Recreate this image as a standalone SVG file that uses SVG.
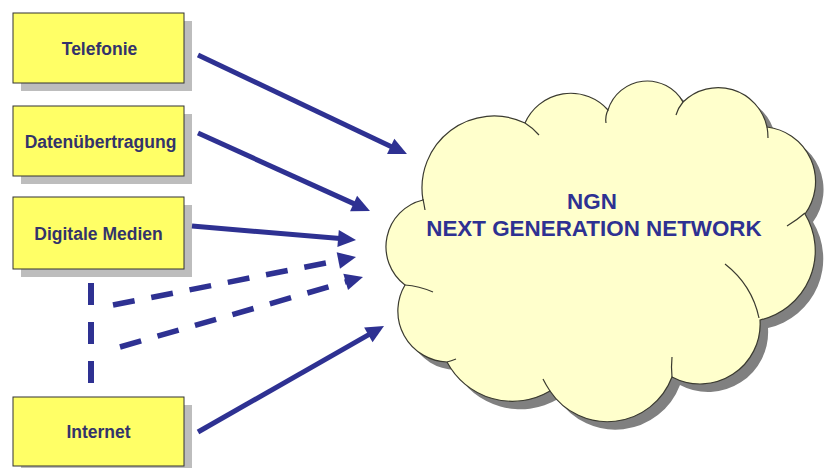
<svg xmlns="http://www.w3.org/2000/svg" width="824" height="468" viewBox="0 0 824 468">
<style>
.box{fill:#FFFF66;stroke:#333333;stroke-width:1}
.bshadow{fill:#BDBDBD}
.blabel{font-family:"Liberation Sans",Arial,sans-serif;font-weight:bold;font-size:17.5px;fill:#33336B;text-anchor:middle}
.clabel{font-family:"Liberation Sans",Arial,sans-serif;font-weight:bold;font-size:22.4px;fill:#2E3192;text-anchor:middle}
.cloud{fill:#FFFFCC;stroke:#3A3A30;stroke-width:1.2}
.cshadow{fill:#808080}
.crease{fill:none;stroke:#3A3A30;stroke-width:1.2}
.arrow{fill:none;stroke:#2E3192;stroke-width:5}
.dash{fill:none;stroke:#2E3192;stroke-width:5.5;stroke-dasharray:22 17}
</style>
<defs>
<marker id="ah" markerUnits="userSpaceOnUse" orient="auto" refX="2" refY="0" markerWidth="20" markerHeight="20" overflow="visible">
<polygon points="0,-8.5 18,0 0,8.5" fill="#2E3192"/>
</marker>
<path id="cloudShape" d="M423,200 A72,72 0 0 1 525,123 A50,50 0 0 1 608,110 A41,41 0 0 1 683,102 A50,50 0 0 1 767,127 A55,55 0 0 1 805,214 A71,71 0 0 1 760,320 A60,60 0 0 1 672,377 A69,69 0 0 1 550,391 A74,74 0 0 1 447,362 A51,51 0 0 1 405,285 A48,48 0 0 1 423,200 Z"/>
</defs>
<rect width="824" height="468" fill="#FFFFFF"/>

<g id="telefonie">
<rect class="bshadow" x="21" y="21" width="171" height="70"/>
<rect class="box" x="13" y="13" width="171" height="70"/>
<text class="blabel" x="99.5" y="54.5">Telefonie</text>
</g>
<g id="datenuebertragung">
<rect class="bshadow" x="21" y="114" width="171" height="70"/>
<rect class="box" x="13" y="106" width="171" height="70"/>
<text class="blabel" x="100.5" y="147.5">Datenübertragung</text>
</g>
<g id="digitale-medien">
<rect class="bshadow" x="21" y="205" width="171" height="72"/>
<rect class="box" x="13" y="197" width="171" height="72"/>
<text class="blabel" x="98.5" y="239.5">Digitale Medien</text>
</g>
<g id="internet">
<rect class="bshadow" x="21" y="405" width="171" height="69"/>
<rect class="box" x="13" y="397" width="171" height="69"/>
<text class="blabel" x="98.5" y="438">Internet</text>
</g>

<g id="ngn">
<use href="#cloudShape" class="cshadow" transform="translate(8,8)"/>
<use href="#cloudShape" class="cloud"/>
<path class="crease" d="M423,199 Q424,204 425,210"/>
<path class="crease" d="M525,123 Q533,128 539,135"/>
<path class="crease" d="M608,110 Q605,116 606,123"/>
<path class="crease" d="M683,102 Q678,108 676,115"/>
<path class="crease" d="M767,127 Q768,132 768,138"/>
<path class="crease" d="M805,213 Q797,220 787,226"/>
<path class="crease" d="M759,318 Q752,285 725,264"/>
<path class="crease" d="M672,377 Q671,367 672,357"/>
<path class="crease" d="M550,391 Q546,385 543,379"/>
<path class="crease" d="M447,362 Q451,361 456,359"/>
<path class="crease" d="M405,285 Q419,286 433,292"/>
<text class="clabel" x="592" y="209">NGN</text>
<text class="clabel" x="594" y="236">NEXT GENERATION NETWORK</text>
</g>

<g id="connectors">
<path class="arrow" d="M198,55 L392.5,147.2" marker-end="url(#ah)"/>
<path class="arrow" d="M198,133 L355.4,204.4" marker-end="url(#ah)"/>
<path class="arrow" d="M192,226 L340.1,238.6" marker-end="url(#ah)"/>
<path class="arrow" d="M198,432 L370.1,333.9" marker-end="url(#ah)"/>
<path class="dash" d="M113,305 L340.3,260.1" marker-end="url(#ah)"/>
<path class="dash" d="M120,347 L347.6,281.4" marker-end="url(#ah)"/>
<path class="dash" d="M91,283 L91,383" style="stroke-width:6"/>
</g>
</svg>
